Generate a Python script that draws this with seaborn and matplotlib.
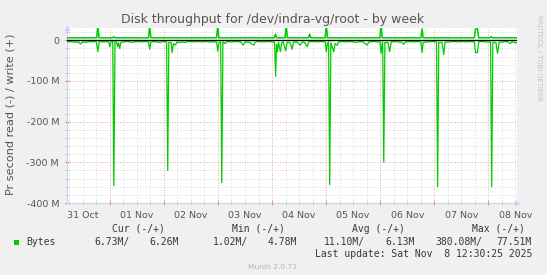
import matplotlib
matplotlib.use("Agg")
import matplotlib.pyplot as plt
import seaborn as sns
import pandas as pd
from matplotlib.patches import Rectangle

# ---------------- data (hours since 31 Oct 00:00, values in MB/s) ----------------
read_hours = [5.0, 7.0, 9.0, 10.0, 11.0, 12.0, 13.5, 15.0, 16.5, 18.0, 18.7, 19.3, 21.0, 22.5, 23.5,
              24.0, 24.5, 25.3, 25.8, 26.3, 27.0, 27.5, 27.9, 28.4, 28.9, 30.0, 32.0, 34.0, 36.0,
              38.0, 40.0, 41.2, 41.7, 42.2, 44.0, 46.0, 48.0, 49.2, 49.7, 50.2, 51.2, 51.7, 52.2,
              53.1, 53.8, 55.0, 56.0, 57.5, 59.0, 61.0, 63.0, 65.0, 67.0, 69.0, 71.4, 71.9, 72.4,
              73.2, 73.7, 74.2, 75.3, 76.0, 78.0, 80.0, 82.0, 83.2, 84.0, 86.0, 87.9, 88.6, 90.0,
              92.0, 94.0, 96.0, 97.1, 97.6, 98.0, 98.4, 98.9, 99.7, 100.3, 101.0, 102.1, 102.7,
              104.0, 104.9, 105.5, 107.0, 108.6, 109.3, 110.5, 111.6, 112.3, 114.0, 116.0, 118.0,
              119.6, 120.1, 120.6, 121.1, 121.6, 122.1, 123.4, 124.0, 124.9, 125.6, 127.0, 129.0,
              131.0, 133.0, 135.0, 136.5, 138.2, 139.0, 141.0, 143.0, 143.9, 144.4, 144.9, 145.1,
              145.6, 146.1, 147.5, 148.2, 148.9, 150.5, 152.0, 153.5, 154.4, 155.2, 157.0, 159.0,
              161.0, 162.1, 162.6, 163.1, 165.0, 167.0, 169.0, 169.5, 170.0, 171.5, 172.2, 172.8,
              174.5, 176.5, 178.5, 180.5, 182.5, 184.5, 185.8, 186.3, 187.2, 187.7, 189.0, 191.0,
              193.0, 193.5, 194.0, 195.4, 196.1, 196.8, 198.5, 200.0, 201.0, 201.7, 202.5, 203.5,
              204.5]
read_mb = [4, 3, 5, 4, 9, 4, 5, 3, 4, 3, 28, 3, 4, 3, 4,
           16, 4, 3, 357, 3, 5, 16, 6, 20, 5, 4, 3, 5, 3,
           4, 3, 4, 22, 4, 3, 5, 3, 4, 320, 5, 6, 30, 8,
           12, 4, 6, 4, 5, 3, 4, 3, 4, 3, 4, 4, 27, 6,
           4, 350, 4, 8, 3, 4, 3, 4, 12, 4, 5, 12, 4, 3,
           4, 3, 4, 5, 89, 10, 28, 5, 28, 6, 4, 26, 5,
           6, 22, 5, 4, 12, 4, 5, 16, 4, 3, 4, 3,
           4, 28, 8, 4, 355, 6, 28, 8, 12, 4, 3, 4,
           3, 5, 3, 4, 12, 4, 3, 4, 4, 32, 6, 4,
           300, 5, 6, 28, 4, 3, 4, 5, 10, 4, 3, 4,
           3, 4, 30, 5, 4, 3, 4, 360, 5, 6, 35, 5,
           4, 3, 4, 3, 4, 3, 4, 30, 30, 4, 3, 4,
           4, 360, 5, 6, 32, 5, 4, 3, 5, 8, 4, 5,
           6.7]

write_hours = [5.0, 18.2, 18.7, 19.2, 25.3, 25.8, 26.3, 41.2, 41.7, 42.2, 71.4, 71.9, 72.4,
               97.0, 97.5, 98.0, 101.8, 102.3, 102.8, 112.2, 112.7, 113.2, 119.6, 120.1, 120.6,
               143.9, 144.4, 144.9, 162.1, 162.6, 163.1, 185.8, 186.3, 187.2, 187.7,
               192.8, 193.3, 193.8, 204.5]
write_mb = [6.2, 6.2, 38, 6.2, 6.2, 9, 6.2, 6.2, 38, 6.2, 6.2, 38, 6.2,
            6.2, 15, 6.2, 6.2, 40, 6.2, 6.2, 15, 6.2, 6.2, 40, 6.2,
            6.2, 40, 6.2, 6.2, 28, 6.2, 6.2, 28, 28, 6.2,
            6.2, 9, 6.2, 6.26]

day_labels = ["31 Oct", "01 Nov", "02 Nov", "03 Nov", "04 Nov",
              "05 Nov", "06 Nov", "07 Nov", "08 Nov"]
y_ticks = [0, -100, -200, -300, -400]
y_tick_labels = ["0", "-100 M", "-200 M", "-300 M", "-400 M"]

legend_headers = ["Cur (-/+)", "Min (-/+)", "Avg (-/+)", "Max (-/+)"]
legend_values = ["6.73M/", "6.26M", "1.02M/", "4.78M", "11.10M/", "6.13M", "380.08M/", "77.51M"]
series_name = "Bytes"
last_update = "Last update: Sat Nov  8 12:30:25 2025"

# ---------------- styling ----------------
W, H = 547, 275
GREEN = "#00cc00"
TXT = "#555555"
AXC = "#d0d0f4"

fig = plt.figure(figsize=(W / 100, H / 100), dpi=100, facecolor="#f0f0f0")
L, R, T, B = 67, 516.7, 27.5, 203
ax = fig.add_axes([L / W, 1 - B / H, (R - L) / W, (B - T) / H])
ax.set_facecolor("white")

df_r = pd.DataFrame({"hours": read_hours, "value": [-v for v in read_mb]})
df_w = pd.DataFrame({"hours": write_hours, "value": write_mb})

sns.lineplot(data=df_r, x="hours", y="value", ax=ax, color=GREEN, lw=0.9,
             estimator=None, sort=False, zorder=3)
sns.lineplot(data=df_w, x="hours", y="value", ax=ax, color=GREEN, lw=1.1,
             estimator=None, sort=False, zorder=3)
ax.axhline(0, color="black", lw=1.0, zorder=4)

ax.set_xlim(5.0, 204.6)
ax.set_ylim(-400, 31.5)

# grid
minor_y = [v for v in range(-380, 40, 20) if v % 100 != 0]
ax.set_yticks(y_ticks, labels=y_tick_labels)
ax.set_yticks(minor_y, minor=True)
majors_x = list(range(24, 205, 24))
minor_x = [h for h in range(6, 205, 6) if h % 24 != 0]
ax.set_xticks(majors_x, labels=[""] * len(majors_x))
ax.set_xticks(minor_x, labels=[day_labels[(h - 12) // 24] if h % 24 == 12 else "" for h in minor_x],
              minor=True)

ax.grid(which="minor", color="#cccccc", ls=(0, (1, 2)), lw=0.6, zorder=1)
ax.grid(which="major", color="#e88888", ls=(0, (1, 2)), lw=0.6, zorder=1)

ax.tick_params(axis="both", which="both", labelsize=6.8, labelcolor=TXT)
ax.tick_params(axis="x", which="major", length=2.5, color="#e07070", direction="inout")
ax.tick_params(axis="x", which="minor", length=2.5, color="#c8c8c8", direction="inout", pad=4.5)
ax.tick_params(axis="y", which="major", length=2.5, color="#e07070", direction="inout", pad=4.5)
ax.tick_params(axis="y", which="minor", length=2.5, color="#c8c8c8", direction="inout")

for s in ["top", "right"]:
    ax.spines[s].set_visible(False)
for s in ["left", "bottom"]:
    ax.spines[s].set_color(AXC)
    ax.spines[s].set_linewidth(0.8)
ax.set_xlabel("")
ax.set_ylabel("")

# axis arrows
ax.plot([0], [1.0], marker="^", ms=3, color=AXC, transform=ax.transAxes, clip_on=False, zorder=5)
ax.plot([1.0], [0], marker=">", ms=3, color=AXC, transform=ax.transAxes, clip_on=False, zorder=5)


def fx(x):
    return x / W


def fy(y):
    return 1 - y / H


fig.text(fx(273), fy(19), "Disk throughput for /dev/indra-vg/root - by week",
         ha="center", va="center", fontsize=9, color=TXT)
fig.text(fx(10.5), fy(114), "Pr second read (-) / write (+)", rotation=90,
         ha="center", va="center", fontsize=8.1, color=TXT)
fig.text(fx(539), fy(58), "RRDTOOL / TOBI OETIKER", rotation=270,
         ha="center", va="center", fontsize=4.9, color="#c0c0c0")

mono = "DejaVu Sans Mono"
LEG = "#383838"
for x, s in zip([111.5, 231.7, 352, 472], legend_headers):
    fig.text(fx(x), fy(228.6), s, ha="left", va="center", fontsize=7, family=mono, color=LEG)
fig.patches.append(Rectangle((fx(14), fy(244.5)), 5 / W, 5 / H, transform=fig.transFigure,
                             facecolor=GREEN, edgecolor=GREEN, lw=0))
fig.text(fx(26), fy(241.8), series_name, ha="left", va="center", fontsize=7, family=mono, color=LEG)
for x, s in zip([94.8, 149.8, 213, 267.6, 324, 385, 435.5, 496.5], legend_values):
    fig.text(fx(x), fy(241.8), s, ha="left", va="center", fontsize=7, family=mono, color=LEG)
fig.text(fx(532), fy(254), last_update, ha="right", va="center", fontsize=7, family=mono, color=LEG)
fig.text(fx(272.5), fy(267), "Munin 2.0.73", ha="center", va="center", fontsize=5.4, color="#b4b4b4")

fig.savefig("out.png", dpi=100, facecolor=fig.get_facecolor())
